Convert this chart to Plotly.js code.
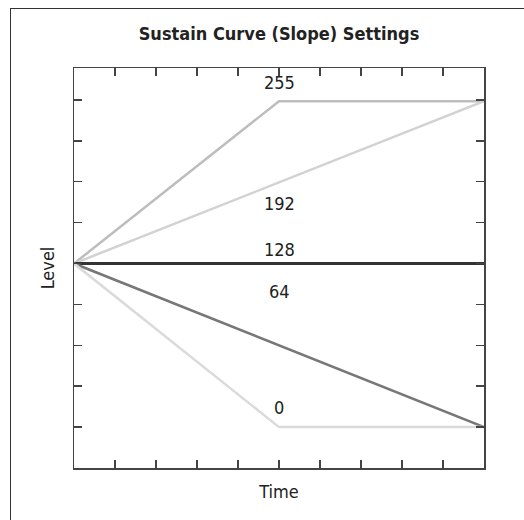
<!DOCTYPE html>
<html>
<head>
<meta charset="utf-8">
<script src="https://cdn.plot.ly/plotly-3.0.1.min.js"></script>
<style>
  html, body { margin: 0; padding: 0; background: #fff; }
  #wrap { position: relative; width: 524px; height: 520px; }
  #chart { width: 524px; height: 520px; }
  #frame { position: absolute; left: 10px; top: 8px; right: 0; bottom: 0;
           border-top: 1.5px solid #333; border-left: 1.5px solid #333; pointer-events: none; }
</style>
</head>
<body>
<div id="wrap">
  <div id="chart"></div>
  <div id="frame"></div>
</div>
<script>
// ---- data ----
const timePoints = [0, 5, 10];
const seriesNames = ['255', '192', '128', '64', '0'];
const level255 = [128, 255, 255];
const level192 = [128, 191.5, 255];
const level128 = [128, 128, 128];
const level64  = [128, 64, 0];
const level0   = [128, 0, 0];
const chartTitle = 'Sustain Curve (Slope) Settings';
const xTitle = 'Time';
const yTitle = 'Level';

const FONT = '"DejaVu Sans Condensed", "Liberation Sans Narrow", "Roboto", sans-serif';

const styles = {
  '255': { color: '#bdbdbd', width: 2.5 },
  '192': { color: '#d2d2d2', width: 2.5 },
  '128': { color: '#333333', width: 3 },
  '64':  { color: '#777777', width: 2.5 },
  '0':   { color: '#dadada', width: 2.5 }
};
const values = [level255, level192, level128, level64, level0];

const traces = seriesNames.map((n, i) => ({
  x: timePoints, y: values[i], type: 'scatter', mode: 'lines', name: n,
  line: { color: styles[n].color, width: styles[n].width },
  hoverinfo: 'skip', showlegend: false
}));

// label placement (styling): y position for each text label
const labelY = { '255': 270, '192': 175, '128': 139, '64': 106, '0': 15 };
const annotations = seriesNames.map(n => ({
  x: timePoints[1], y: labelY[n], xref: 'x', yref: 'y', text: n, showarrow: false,
  font: { family: FONT, size: 18, color: '#222' }
}));

const axisCommon = {
  showgrid: false, zeroline: false, showticklabels: false,
  ticks: 'inside', ticklen: 8, tickwidth: 1.5, tickcolor: '#444',
  showline: true, linecolor: '#444', linewidth: 1.5, mirror: 'ticks'
};

const layout = {
  width: 524, height: 520,
  margin: { l: 74, r: 40, t: 68, b: 52, pad: 0 },
  paper_bgcolor: '#ffffff', plot_bgcolor: '#ffffff',
  title: { text: '<b>' + chartTitle + '</b>', x: 279 / 524, xanchor: 'center', y: 1 - 34 / 520, yanchor: 'middle',
           font: { family: FONT, size: 18, color: '#222' } },
  xaxis: Object.assign({}, axisCommon, { range: [0, 10], tickmode: 'linear', tick0: 0, dtick: 1,
           title: { text: xTitle, standoff: 17, font: { family: FONT, size: 18, color: '#222' } } }),
  yaxis: Object.assign({}, axisCommon, { range: [-32, 281], tickmode: 'linear', tick0: 0, dtick: 32,
           title: { text: yTitle, standoff: 13, font: { family: FONT, size: 18, color: '#222' } } }),
  annotations: annotations
};

Plotly.newPlot('chart', traces, layout, { staticPlot: true, displayModeBar: false });
</script>
</body>
</html>
